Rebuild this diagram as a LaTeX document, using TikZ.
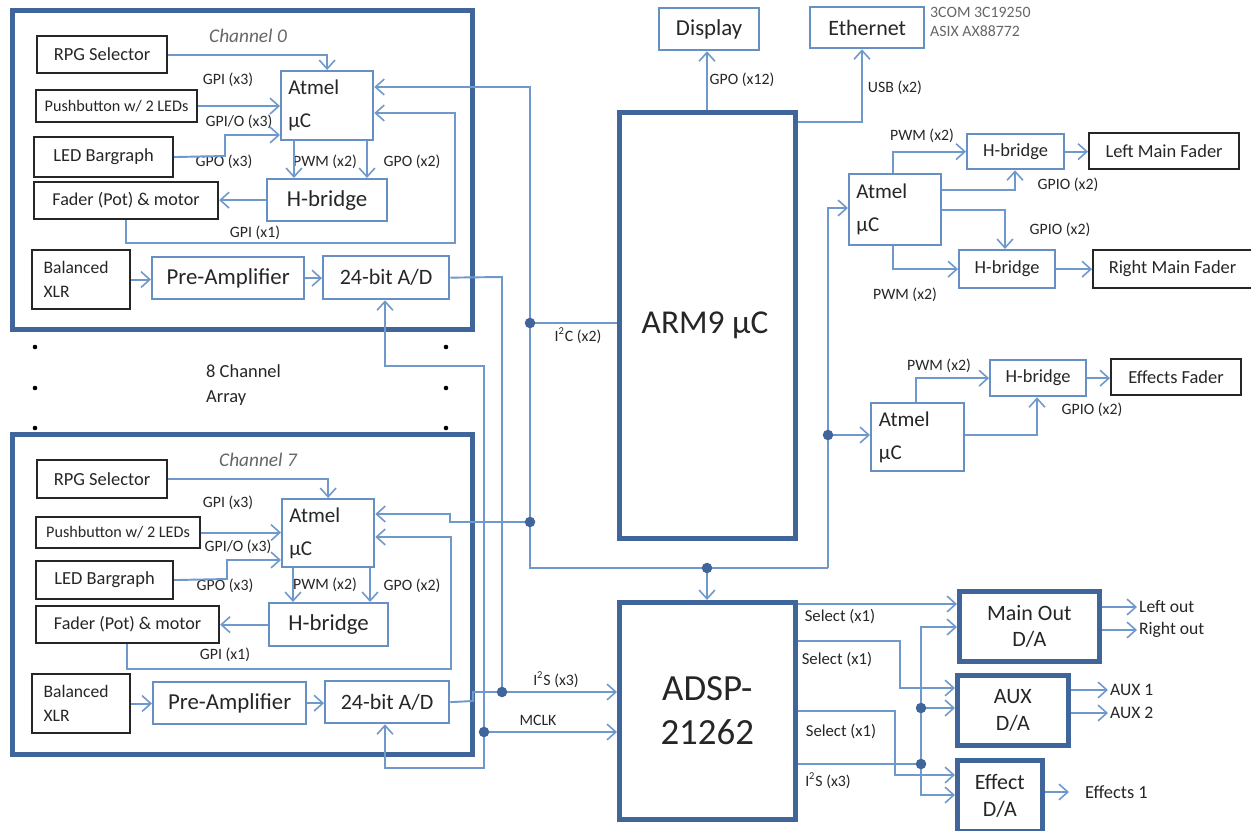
\documentclass[tikz,border=0pt]{standalone}
\usepackage{fontspec}
\setmainfont{Carlito}
\usetikzlibrary{arrows.meta,calc}
\definecolor{ln}{HTML}{6F98CB}
\definecolor{dk}{HTML}{40659A}
\definecolor{bb}{HTML}{6690C4}
\definecolor{tx}{HTML}{262626}
\newcommand\fs[2]{\fontsize{#1}{#2}\selectfont}
\newcommand\mybox[7]{\node[#1, minimum width={(#5-#3)*0.02cm}, minimum height={(#6-#4)*0.02cm}, anchor=north west] (#2) at (#3,#4) {#7};}
\tikzset{
 bluebox/.style={draw=bb,line width=1.3pt,inner sep=0pt,text=tx},
 blackbox/.style={draw=black!85,line width=1.2pt,inner sep=0pt,text=tx},
 thickbox/.style={draw=dk,line width=2.6pt,inner sep=0pt,text=tx},
 wire/.style={draw=ln,line width=1.1pt},
 arr/.style={wire,-{Straight Barb[length=5pt,width=9pt,line width=0.9pt]}},
 lbl/.style={font=\fs{9}{10},text=tx,inner sep=1pt},
 outl/.style={font=\fs{10}{11},text=tx,inner sep=1pt,anchor=west},
 dot/.style={circle,fill=dk,inner sep=0pt,minimum size=6pt},
 atmel/.style={bluebox,align=left,font=\fs{12}{19}},
 xlr/.style={blackbox,font=\fs{10}{14},align=left,text width=1.5cm},
}
\begin{document}
\begin{tikzpicture}[x=0.02cm,y=-0.02cm]
\useasboundingbox (0,0) rectangle (1251,831);
% ---------------- Channel 0 ----------------
\mybox{thickbox}{ch0}{10}{8}{470}{327}{}
\node[font=\fs{11}{12}\itshape,text=black!60] (c0t) at (248,36) {Channel 0};
\mybox{blackbox,font=\fs{10.5}{11}}{rpg0}{36}{35}{166}{72}{RPG Selector}
\mybox{blackbox,font=\fs{9.2}{10}}{pb0}{35}{89}{196}{121}{Pushbutton w/ 2 LEDs}
\mybox{blackbox,font=\fs{10.5}{11}}{led0}{33}{136}{172}{176}{LED Bargraph}
\mybox{blackbox,font=\fs{10.3}{11}}{fad0}{33}{181}{217}{218}{Fader (Pot) \& motor}
\mybox{atmel,text width=1.55cm}{atm0}{280}{70}{372}{139}{Atmel\\µC}
\mybox{bluebox,font=\fs{13}{14}}{hb0}{266}{178}{386}{220}{H-bridge}
\mybox{xlr}{xlr0}{31}{249}{129}{308}{Balanced\\XLR}
\mybox{bluebox,font=\fs{13}{14}}{pre0}{151}{256}{303}{298}{Pre-Amplifier}
\mybox{bluebox,font=\fs{12.5}{13}}{ad0}{322}{255}{448}{298}{24-bit A/D}
\node[lbl] (l01) at (228,80) {GPI (x3)};
\node[lbl] (l02) at (239,122) {GPI/O (x3)};
\node[lbl] (l03) at (224,162) {GPO (x3)};
\node[lbl] (l04) at (325,162) {PWM (x2)};
\node[lbl] (l05) at (412,162) {GPO (x2)};
\node[lbl] (l06) at (255,233) {GPI (x1)};
\draw[arr] (rpg0.east) -| (atm0.north);
\draw[arr] (pb0.east) -- (pb0.east -| atm0.west);
\draw[arr] (led0.east) -- (225,156) -- (225,135) -- (atm0.west |- 225,135);
\draw[arr] (atm0.south -| 294,0) -- (hb0.north -| 294,0);
\draw[arr] (atm0.south -| 367,0) -- (hb0.north -| 367,0);
\draw[arr] (hb0.west) -- (hb0.west -| fad0.east);
\draw[arr] (fad0.south -| 126,0) -- (126,243) -- (455,243) -- (455,113) -- (atm0.east |- 0,113);
\draw[arr] (xlr0.east) -- (xlr0.east -| pre0.west);
\draw[arr] (pre0.east) -- (pre0.east -| ad0.west);
% ---------------- dots / array label ----------------
\foreach \yy in {347,388,428}{\fill (35,\yy) circle (1.3pt); \fill (446,\yy) circle (1.3pt);}
\node[font=\fs{10.5}{14},align=left,text=tx,anchor=west] (arr8) at (200,385) {8 Channel\\Array};
% ---------------- Channel 7 ----------------
\mybox{thickbox}{ch7}{10}{432}{470}{752}{}
\node[font=\fs{11}{12}\itshape,text=black!60] (c7t) at (258,460) {Channel 7};
\mybox{blackbox,font=\fs{10.5}{11}}{rpg7}{36}{459}{166}{497}{RPG Selector}
\mybox{blackbox,font=\fs{9.2}{10}}{pb7}{35}{516}{199}{547}{Pushbutton w/ 2 LEDs}
\mybox{blackbox,font=\fs{10.5}{11}}{led7}{35}{560}{172}{598}{LED Bargraph}
\mybox{blackbox,font=\fs{10.3}{11}}{fad7}{35}{605}{218}{642}{Fader (Pot) \& motor}
\mybox{atmel,text width=1.55cm}{atm7}{281}{498}{373}{566}{Atmel\\µC}
\mybox{bluebox,font=\fs{13}{14}}{hb7}{268}{602}{387}{645}{H-bridge}
\mybox{xlr}{xlr7}{31}{673}{129}{732}{Balanced\\XLR}
\mybox{bluebox,font=\fs{13}{14}}{pre7}{152}{681}{305}{723}{Pre-Amplifier}
\mybox{bluebox,font=\fs{12.5}{13}}{ad7}{324}{680}{448}{722}{24-bit A/D}
\node[lbl] (l71) at (228,503) {GPI (x3)};
\node[lbl] (l72) at (238,547) {GPI/O (x3)};
\node[lbl] (l73) at (225,586) {GPO (x3)};
\node[lbl] (l74) at (325,585) {PWM (x2)};
\node[lbl] (l75) at (412,586) {GPO (x2)};
\node[lbl] (l76) at (225,655) {GPI (x1)};
\draw[arr] (rpg7.east) -| (atm7.north);
\draw[arr] (pb7.east) -- (pb7.east -| atm7.west);
\draw[arr] (led7.east) -- (227,579) -- (227,560) -- (atm7.west |- 0,560);
\draw[arr] (atm7.south -| 293,0) -- (hb7.north -| 293,0);
\draw[arr] (atm7.south -| 370,0) -- (hb7.north -| 370,0);
\draw[arr] (hb7.west) -- (hb7.west -| fad7.east);
\draw[arr] (fad7.south -| 127,0) -- (127,669) -- (451,669) -- (451,537) -- (atm7.east |- 0,537);
\draw[arr] (xlr7.east) -- (xlr7.east -| pre7.west);
\draw[arr] (pre7.east) -- (pre7.east -| ad7.west);
% ---------------- ARM9 ----------------
\mybox{thickbox}{arm}{617}{110}{793}{536}{}
\node[font=\fs{19}{20},text=tx] (armt) at (705,325) {ARM9 µC};
\mybox{bluebox,font=\fs{13}{14}}{disp}{658}{7}{758}{49}{Display}
\mybox{bluebox,font=\fs{12.5}{13}}{eth}{809}{6}{923}{47}{Ethernet}
\node[font=\fs{9}{11},text=black!60,align=left,anchor=west] (chip) at (924,22) {3COM 3C19250\\ASIX AX88772};
\node[lbl] (lgpo12) at (742,80) {GPO (x12)};
\node[lbl] (lusb) at (895,88) {USB (x2)};
\node[lbl] (li2c) at (578,336) {I\textsuperscript{2}C (x2)};
\draw[arr] (arm.north -| 707,0) -- (disp.south -| 707,0);
\draw[arr] (arm.east |- 0,122) -- (862,122) -- (eth.south -| 862,0);
% ---------------- ADSP ----------------
\mybox{thickbox,font=\fs{21}{25},align=center}{adsp}{617}{600}{793}{817}{ADSP-\\21262}
\node[lbl] (li2s1) at (556,680) {I\textsuperscript{2}S (x3)};
\node[lbl] (lmclk) at (538,720) {MCLK};
% ---------------- bus ----------------
\draw[wire] (ad0.east) -- (502,277) -- (502,692);
\draw[arr] (484,732) -- (484,366) -- (385,366) -- (ad0.south -| 385,0);
\draw[arr] (484,732) -- (484,768) -- (385,768) -- (ad7.south -| 385,0);
\draw[arr] (ad7.east) -- (473,701) -- (473,692) -- (adsp.west |- 0,692);
\draw[arr] (484,732) -- (adsp.west |- 0,732);
\draw[arr] (530,323) -- (530,87) -- (atm0.east |- 0,87);
\draw[wire] (arm.west |- 0,323) -- (530,323) -- (530,568) -- (828,568);
\draw[arr] (530,522) -- (450,522) -- (450,514) -- (atm7.east |- 0,514);
\draw[arr] (707,568) -- (adsp.north -| 707,0);
% ---------------- right Atmel 1 ----------------
\mybox{atmel,text width=1.55cm}{atr1}{848}{173}{940}{244}{Atmel\\µC}
\mybox{bluebox,font=\fs{10.5}{11}}{hbr1}{966}{133}{1063}{168}{H-bridge}
\mybox{blackbox,font=\fs{10.5}{11}}{lmf}{1088}{132}{1238}{168}{Left Main Fader}
\mybox{bluebox,font=\fs{10.5}{11}}{hbr2}{958}{249}{1054}{287}{H-bridge}
\mybox{blackbox,font=\fs{10.5}{11}}{rmf}{1092}{249}{1251}{287}{Right Main Fader}
\node[lbl] (lr1) at (922,136) {PWM (x2)};
\node[lbl] (lr2) at (1068,185) {GPIO (x2)};
\node[lbl] (lr3) at (1060,230) {GPIO (x2)};
\node[lbl] (lr4) at (905,295) {PWM (x2)};
\draw[arr] (828,568) -- (828,208) -- (atr1.west |- 0,208);
\draw[arr] (atr1.north -| 893,0) |- (hbr1.west);
\draw[arr] (atr1.east |- 0,190) -- (1015,190) -- (hbr1.south -| 1015,0);
\draw[arr] (atr1.east |- 0,210) -- (1005,210) -- (hbr2.north -| 1005,0);
\draw[arr] (atr1.south -| 893,0) |- (hbr2.west);
\draw[arr] (hbr1.east) -- (hbr1.east -| lmf.west);
\draw[arr] (hbr2.east) -- (hbr2.east -| rmf.west);
% ---------------- right Atmel 2 ----------------
\mybox{atmel,text width=1.55cm}{atr2}{870}{402}{963}{470}{Atmel\\µC}
\mybox{bluebox,font=\fs{10.5}{11}}{hbr3}{989}{359}{1085}{395}{H-bridge}
\mybox{blackbox,font=\fs{10.5}{11}}{eff}{1110}{358}{1240}{394}{Effects Fader}
\node[lbl] (lr5) at (939,366) {PWM (x2)};
\node[lbl] (lr6) at (1092,410) {GPIO (x2)};
\draw[arr] (828,435) -- (atr2.west |- 0,435);
\draw[arr] (atr2.north -| 916,0) |- (hbr3.west);
\draw[arr] (atr2.east |- 0,435) -- (1037,435) -- (hbr3.south -| 1037,0);
\draw[arr] (hbr3.east) -- (hbr3.east -| eff.west);
% ---------------- D/A ----------------
\mybox{thickbox,font=\fs{12.5}{14.5},align=center}{mo}{957}{589}{1097}{659}{Main Out\\D/A}
\mybox{thickbox,font=\fs{12.5}{15.5},align=center}{aux}{955}{673}{1066}{743}{AUX\\D/A}
\mybox{thickbox,font=\fs{12.5}{15.5},align=center}{efd}{955}{758}{1040}{829}{Effect\\D/A}
\node[lbl,font=\fs{9.5}{10}] (s1) at (840,617) {Select (x1)};
\node[lbl,font=\fs{9.5}{10}] (s2) at (837,660) {Select (x1)};
\node[lbl,font=\fs{9.5}{10}] (s3) at (841,732) {Select (x1)};
\node[lbl] (li2s2) at (828,781) {I\textsuperscript{2}S (x3)};
\draw[arr] (adsp.east |- 0,604) -- (mo.west |- 0,604);
\draw[arr] (adsp.east |- 0,641) -- (900,641) -- (900,688) -- (aux.west |- 0,688);
\draw[arr] (adsp.east |- 0,711) -- (895,711) -- (895,775) -- (efd.west |- 0,775);
\draw[wire] (adsp.east |- 0,764) -- (921,764);
\draw[arr] (921,764) -- (921,627) -- (mo.west |- 0,627);
\draw[arr] (921,764) -- (921,795) -- (efd.west |- 0,795);
\draw[arr] (921,708) -- (aux.west |- 0,708);
\node[outl] (lo) at (1137,607) {Left out};
\node[outl] (ro) at (1137,630) {Right out};
\node[outl] (a1) at (1108,690) {AUX 1};
\node[outl] (a2) at (1108,713) {AUX 2};
\node[outl,font=\fs{10.5}{11}] (e1) at (1083,792) {Effects 1};
\draw[arr] (mo.east |- lo.west) -- (lo.west);
\draw[arr] (mo.east |- ro.west) -- (ro.west);
\draw[arr] (aux.east |- a1.west) -- (a1.west);
\draw[arr] (aux.east |- a2.west) -- (a2.west);
\draw[arr,shorten >=8pt] (efd.east |- e1.west) -- (e1.west);
% ---------------- junction dots ----------------
\foreach \p/\q in {502/692,484/732,530/323,530/522,707/568,828/435,921/764,921/708}{\node[dot] (j\p-\q) at (\p,\q) {};}
\end{tikzpicture}
\end{document}
